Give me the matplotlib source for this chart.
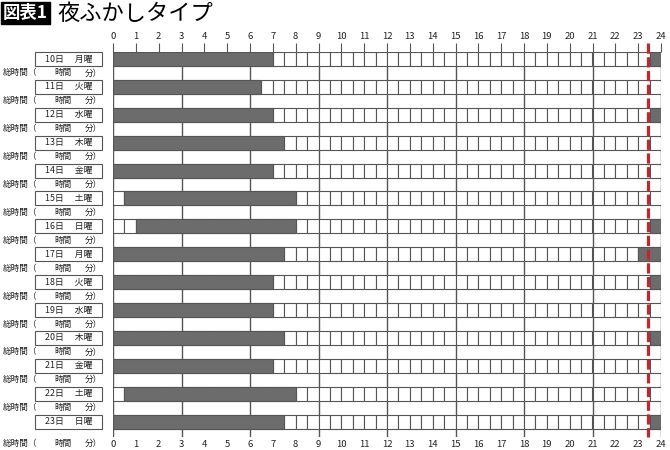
import numpy as np
from matplotlib import pyplot as plt

plt.rcParams["font.family"] = ["Noto Sans CJK JP", "DejaVu Sans"]

# data
days = ["10日", "11日", "12日", "13日", "14日", "15日", "16日",
        "17日", "18日", "19日", "20日", "21日", "22日", "23日"]
weekdays = ["月曜", "火曜", "水曜", "木曜", "金曜", "土曜", "日曜",
            "月曜", "火曜", "水曜", "木曜", "金曜", "土曜", "日曜"]
sleep_start = [0, 0, 0, 0, 0, 0.5, 1, 0, 0, 0, 0, 0, 0.5, 0]
sleep_end = [7, 6.5, 7, 7.5, 7, 8, 8, 7.5, 7, 7, 7.5, 7, 8, 7.5]
late_start = [23.5, None, 23.5, None, None, None, 23.5,
              23, 23.5, None, 23.5, None, None, 23.5]
bedtime_line = 23.43
hours = np.arange(0, 25)

LINE = "#555555"
FILL = "#6c6c6c"
RED = "#c1272d"
TXT = "#222222"

fig = plt.figure(figsize=(6.7, 4.5), dpi=100)
ax = fig.add_axes([113 / 670, 13 / 450, 548 / 670, 385 / 450])
ax.set_xlim(0, 24)
ax.set_ylim(13.8, 0)
for s in ax.spines.values():
    s.set_visible(False)

# vertical guide lines every 3 hours
ax.vlines(hours[::3], 0, 13.8, color=LINE, lw=1.0, zorder=1)

cells = np.arange(0, 24, 0.5)
n = len(days)
for i in range(n):
    yc = i + 0.25
    # half-hour cells
    ax.barh(np.full(cells.size, yc), 0.5, left=cells, height=0.5,
            color="white", edgecolor=LINE, lw=0.8, zorder=2)
    ax.barh(yc, sleep_end[i] - sleep_start[i], left=sleep_start[i], height=0.5,
            color=FILL, edgecolor=LINE, lw=0.8, zorder=3)
    if late_start[i] is not None:
        ax.barh(yc, 24 - late_start[i], left=late_start[i], height=0.5,
                color=FILL, edgecolor=LINE, lw=0.8, zorder=3)
    # day label box
    ax.barh(yc, 2.94, left=-3.42, height=0.5, color="white", edgecolor=LINE,
            lw=0.8, clip_on=False, zorder=3)
    ax.text(-1.95, yc, f"{days[i]}　 {weekdays[i]}", ha="center", va="center",
            fontsize=6.4, color=TXT)
    # total time row
    ty = i + 0.75 if i < n - 1 else 14.03
    ax.text(-4.82, ty, "総時間（", ha="left", va="center", fontsize=6.2, color=TXT)
    ax.text(-2.2, ty, "時間", ha="center", va="center", fontsize=6.2, color=TXT)
    ax.text(-0.5, ty, "分）", ha="right", va="center", fontsize=6.2, color=TXT)

ax.plot([bedtime_line, bedtime_line], [-0.32, 13.8], color=RED, lw=2.3,
        dashes=(3.2, 1.1), clip_on=False, zorder=5)

ax.set_yticks([])
ax.set_xticks(hours)
ax.tick_params(axis="x", bottom=False, length=0, pad=2, labelsize=6.8,
               labelcolor=TXT)

top = ax.secondary_xaxis("top")
top.set_xticks(hours)
top.spines["top"].set_visible(False)
top.tick_params(axis="x", length=6.5, width=0.8, color=LINE, pad=1.5,
                labelsize=6.8, labelcolor=TXT)

fig.text(3 / 670, 1 - 13 / 450, "図表1", ha="left", va="center", fontsize=12.5,
         fontweight="bold", color="white",
         bbox=dict(boxstyle="square,pad=0.1", fc="black", ec="black"))
fig.text(57 / 670, 1 - 13 / 450, "夜ふかしタイプ", ha="left", va="center",
         fontsize=16, color="black")

fig.savefig("out.png", dpi=100)
